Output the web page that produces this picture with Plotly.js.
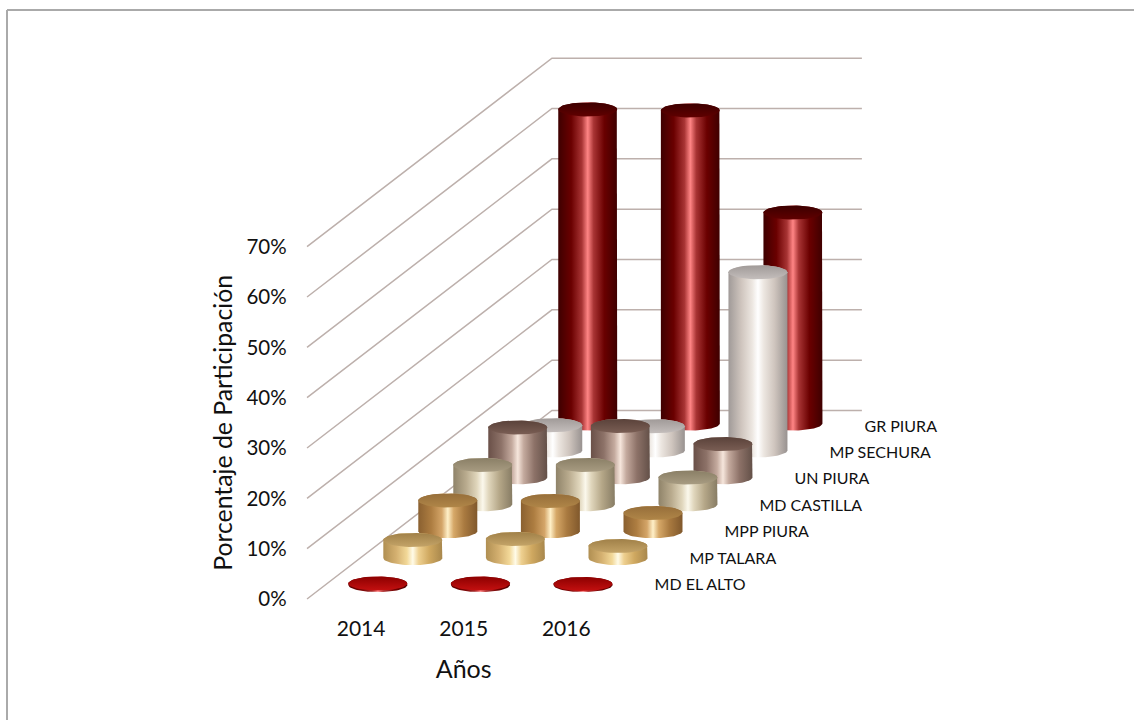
<!DOCTYPE html>
<html><head><meta charset="utf-8">
<script src="https://cdn.plot.ly/plotly-3.0.1.min.js"></script>
<style>html,body{margin:0;padding:0;background:#fff}</style>
</head><body><div id="chart" style="width:1134px;height:720px"></div>
<script>
var years = ['2014','2015','2016'];
var series = ['MD EL ALTO','MP TALARA','MPP PIURA','MD CASTILLA','UN PIURA','MP SECHURA','GR PIURA'];
var mdElAlto  = [0.3, 0.3, 0.2];
var mpTalara  = [3.6, 3.8, 2.4];
var mppPiura  = [6.1, 6.0, 3.6];
var mdCastilla= [7.8, 7.8, 5.3];
var unPiura   = [9.9, 10.2, 6.6];
var mpSechura = [5.0, 4.8, 35.4];
var grPiura   = [62.4, 62.2, 41.9];
var values = [mdElAlto, mpTalara, mppPiura, mdCastilla, unPiura, mpSechura, grPiura];
var levels = [0,10,20,30,40,50,60,70];

var bodyStops = [
 ['#5e0000','#780000','#a02c2c','#ff8a8a','#b03c3c','#750000','#4c0000'],
 ['#b08f52','#d4b070','#f2d898','#fffbe8','#eed090','#cfa860','#a8874c'],
 ['#8a6030','#ad7d41','#d4a568','#fff0c8','#d6a868','#a97a40','#80582c'],
 ['#8f8369','#b9ab8e','#e0d6bc','#fbf8ec','#e0d6bc','#b5a788','#877c64'],
 ['#6a5048','#8d7268','#c4aa9e','#f6e6dc','#c4aa9e','#8d7268','#635048'],
 ['#a09a98','#cfc5be','#ece6e0','#ffffff','#ece6e0','#cfc5be','#989290'],
 ['#3e0000','#6a0000','#a83434','#ff8585','#a83434','#6a0000','#3e0000']
];
var capDark  = ['#8c0000','#a08048','#966e3a','#8a7f66','#5a423a','#a09a98','#3c0000'];
var capLight = ['#c41010','#c4a468','#b08648','#a89c82','#7a5e54','#c4bebc','#600000'];
var stopPos = [0,0.22,0.40,0.5,0.60,0.78,1];

// projection constants, in axis units
var depthX = 0.341, depthY = 5.35, baseX = 0.163, baseY = 2.78;
var rx = 0.2875, ry = 1.40;
var wallX = -0.527, wallDepth = 7, wallEndX = 4.881;
var gridColor = '#bdb0ac';

// page geometry of the real axes
var W=1134, H=720, x0Px=361.1, xUnit=102.6, y0Px=599, yUnit=5.033;

var traces = [];
// carrier for the visible axes
traces.push({type:'scatter',mode:'markers',x:[0,1,2],y:[0,0,0],marker:{opacity:0,size:1},hoverinfo:'skip',showlegend:false});

var oxy = {xaxis:'x2',yaxis:'y2',type:'scatter',hoverinfo:'skip',showlegend:false};
function mk(o){ return Object.assign({},oxy,o); }

levels.forEach(function(v){
  traces.push(mk({mode:'lines',
    x:[wallX, wallX+depthX*wallDepth, wallEndX],
    y:[v, v+depthY*wallDepth, v+depthY*wallDepth],
    line:{color:gridColor,width:1.5}}));
});

function ell(cx,cy,a0,a1,n){
  var xs=[],ys=[];
  for(var k=0;k<=n;k++){var a=a0+(a1-a0)*k/n;xs.push(cx+rx*Math.cos(a));ys.push(cy+ry*Math.sin(a));}
  return [xs,ys];
}
for (var i=series.length-1;i>=0;i--){
  for (var j=0;j<years.length;j++){
    var cx=j+baseX+depthX*i, cy=baseY+depthY*i, v=values[i][j];
    var lower=ell(cx,cy,Math.PI,2*Math.PI,36);
    var upper=ell(cx,cy+v,0,Math.PI,36);
    var scale=stopPos.map(function(p,k){return [p,bodyStops[i][k]];});
    traces.push(mk({mode:'lines',
      x:lower[0].concat(upper[0]),y:lower[1].concat(upper[1]),fill:'toself',
      line:{width:0,color:'rgba(0,0,0,0)'},
      fillgradient:{type:'horizontal',colorscale:scale,start:cx-rx,stop:cx+rx},
      name:series[i]+' '+years[j]}));
    var cap=ell(cx,cy+v,0,2*Math.PI,48);
    traces.push(mk({mode:'lines',
      x:cap[0],y:cap[1],fill:'toself',line:{width:0,color:'rgba(0,0,0,0)'},
      fillgradient:{type:'vertical',colorscale:[[0,capLight[i]],[1,capDark[i]]],start:cy+v-ry,stop:cy+v+ry}}));
  }
}
var labelX0=2.86, labelY0=2.55, labelStepY=5.25;
traces.push(mk({mode:'text',
  x:series.map(function(s,i){return labelX0+depthX*i;}),
  y:series.map(function(s,i){return labelY0+labelStepY*i;}),
  text:series,textposition:'middle right',
  textfont:{family:'Lato, Carlito, sans-serif',size:16,color:'#111'}}));

var layout={width:W,height:H,margin:{l:0,r:0,t:0,b:0},paper_bgcolor:'#fff',plot_bgcolor:'rgba(0,0,0,0)',
  showlegend:false,hovermode:false,
  font:{family:'Lato, Carlito, sans-serif',color:'#111'},
  xaxis:{domain:[(x0Px-0.5*xUnit)/W,(x0Px+2.5*xUnit)/W],anchor:'y',range:[-0.5,2.5],tickmode:'array',tickvals:[0,1,2],ticktext:years,showgrid:false,zeroline:false,showline:false,
    ticks:'outside',ticklen:11,tickcolor:'rgba(0,0,0,0)',tickfont:{size:21,color:'#111'},
    title:{text:'Años',font:{size:25,color:'#111'},standoff:21}},
  yaxis:{domain:[(H-y0Px)/H,(H-y0Px+70*yUnit)/H],anchor:'x',range:[0,70],tickmode:'array',tickvals:levels,ticktext:levels.map(function(v){return v+'%';}),showgrid:false,zeroline:false,showline:false,
    ticks:'outside',ticklen:18,tickcolor:'rgba(0,0,0,0)',tickfont:{size:20.5,color:'#111'},
    title:{text:'Porcentaje de Participación',font:{size:24.8,color:'#111'},standoff:6}},
  xaxis2:{domain:[0,1],anchor:'y2',visible:false,range:[-x0Px/xUnit,(W-x0Px)/xUnit]},
  yaxis2:{domain:[0,1],anchor:'x2',visible:false,range:[-(H-y0Px)/yUnit,y0Px/yUnit]},
  shapes:[
    {type:'line',xref:'paper',yref:'paper',x0:7/W,x1:1,y0:1-10/H,y1:1-10/H,line:{color:'#aaaaaa',width:2}},
    {type:'line',xref:'paper',yref:'paper',x0:7/W,x1:7/W,y0:0,y1:1-10/H,line:{color:'#aaaaaa',width:2}}
  ]
};
Plotly.newPlot('chart',traces,layout,{displayModeBar:false,staticPlot:true});
</script></body></html>
